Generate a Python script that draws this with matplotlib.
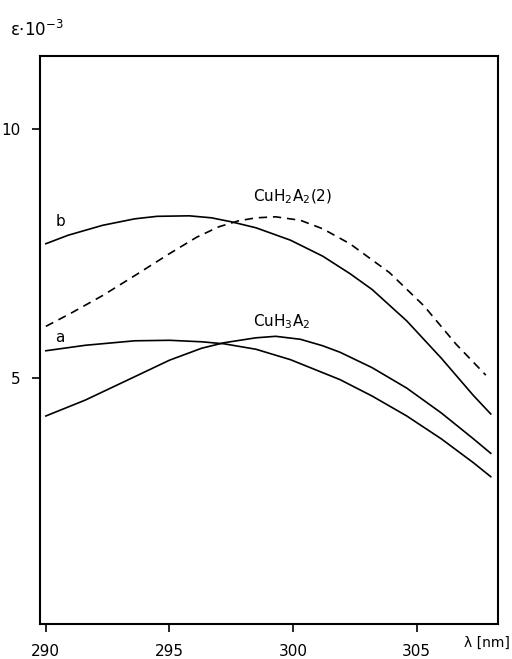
import matplotlib
matplotlib.use("Agg")
import matplotlib.pyplot as plt

# wavelengths (nm) and epsilon*1e-3 values
wl_b = [290.0, 290.9, 292.3, 293.6, 294.5, 295.8, 296.7, 297.5, 298.5, 299.9, 301.2, 302.3, 303.2, 304.6, 306.0, 307.3, 308.0]
eps_b = [7.70, 7.87, 8.07, 8.20, 8.25, 8.26, 8.22, 8.14, 8.02, 7.77, 7.45, 7.10, 6.78, 6.15, 5.40, 4.65, 4.28]

wl_h2 = [290.0, 291.0, 292.3, 293.6, 295.0, 296.1, 297.0, 297.8, 298.5, 299.3, 300.3, 301.2, 302.3, 303.9, 305.3, 306.6, 307.8]
eps_h2 = [6.04, 6.30, 6.66, 7.06, 7.50, 7.83, 8.04, 8.16, 8.22, 8.24, 8.17, 8.00, 7.70, 7.12, 6.45, 5.68, 5.06]

wl_a = [290.0, 291.6, 293.6, 295.0, 296.3, 297.2, 298.5, 299.9, 301.9, 303.2, 304.6, 306.0, 307.3, 308.0]
eps_a = [5.55, 5.66, 5.75, 5.76, 5.73, 5.69, 5.58, 5.37, 4.97, 4.64, 4.24, 3.78, 3.30, 3.02]

wl_h3 = [290.0, 291.6, 293.6, 295.0, 296.3, 297.2, 298.5, 299.3, 300.3, 301.2, 301.9, 303.2, 304.6, 306.0, 307.3, 308.0]
eps_h3 = [4.24, 4.56, 5.03, 5.36, 5.60, 5.71, 5.81, 5.84, 5.78, 5.65, 5.52, 5.21, 4.80, 4.30, 3.78, 3.49]

xticks = [290, 295, 300, 305]
yticks = [5, 10]

fig = plt.figure(figsize=(5.12, 6.59), dpi=100)
ax = fig.add_axes([0.078, 0.053, 0.895, 0.862])

lw = 1.2
ax.plot(wl_b, eps_b, color="black", lw=lw)
ax.plot(wl_h2, eps_h2, color="black", lw=lw, linestyle=(0, (5, 3.5)))
ax.plot(wl_a, eps_a, color="black", lw=lw)
ax.plot(wl_h3, eps_h3, color="black", lw=lw)

ax.set_xlim(289.76, 308.3)
ax.set_ylim(0.06, 11.47)
ax.set_xticks(xticks)
ax.set_xticklabels([str(t) for t in xticks])
ax.set_yticks(yticks)
ax.set_yticklabels([str(t) for t in yticks])
ax.tick_params(direction="out", length=6, width=1.2, labelsize=11, pad=8)
for s in ax.spines.values():
    s.set_linewidth(1.5)

ax.text(290.6, 8.15, "b", fontsize=11, ha="center", va="center")
ax.text(290.55, 5.82, "a", fontsize=11, ha="center", va="center")
ax.text(298.4, 8.45, r"CuH$_2$A$_2$(2)", fontsize=11, ha="left", va="bottom")
ax.text(298.4, 5.95, r"CuH$_3$A$_2$", fontsize=11, ha="left", va="bottom")

fig.text(0.02, 0.955, r"ε$\cdot$10$^{-3}$", fontsize=12, ha="left", va="center")
fig.text(0.995, 0.024, "λ [nm]", fontsize=10, ha="right", va="center")

fig.savefig("out.png", dpi=100)
